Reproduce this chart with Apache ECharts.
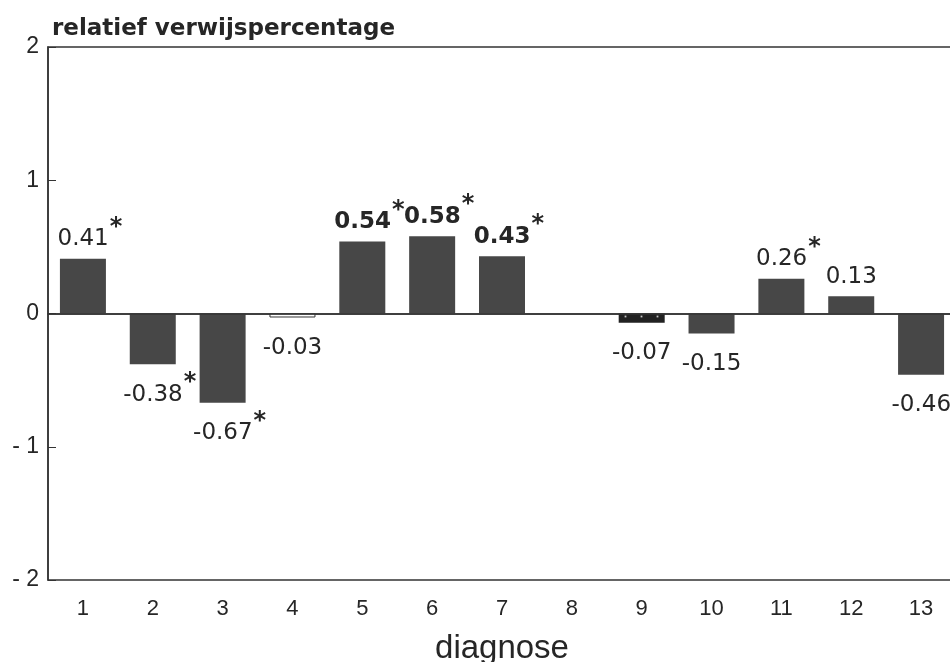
<!DOCTYPE html>
<html>
<head>
<meta charset="utf-8">
<script src="https://cdn.jsdelivr.net/npm/echarts@6/dist/echarts.min.js"></script>
<style>html,body{margin:0;padding:0;background:#fff;}#c{width:950px;height:662px;}</style>
</head>
<body>
<div id="c"></div>
<script>
// ---- data ----
var categories = ['1','2','3','4','5','6','7','8','9','10','11','12','13'];
var values = [0.41, -0.38, -0.67, -0.03, 0.54, 0.58, 0.43, 0, -0.07, -0.15, 0.26, 0.13, -0.46];
var significant = [true, true, true, false, true, true, true, false, false, false, true, false, true];
var yTickValues = [-2, -1, 0, 1, 2];
var yTickLabels = ['- 2', '- 1', '0', '1', '2'];
var titleText = 'relatief verwijspercentage';
var xAxisName = 'diagnose';

// ---- styling ----
var boldCategories = ['5', '6', '7'];
var barColor = '#474747';
var ink = '#262626';

var seriesData = values.map(function (v, i) {
  var item = { value: v };
  var cat = categories[i];
  var star = significant[i];
  var neg = v < 0;
  item.label = {
    position: neg ? 'bottom' : 'top',
    distance: neg ? 16 : 8,
    offset: [star ? 7 : 0, 0]
  };
  if (cat === '4') {
    item.itemStyle = { color: '#ffffff', borderColor: '#333', borderWidth: 1 };
  } else if (cat === '9') {
    item.itemStyle = {
      color: '#222',
      decal: { symbol: 'rect', symbolSize: 0.6, color: 'rgba(255,255,255,0.75)', dashArrayX: [[3, 13]], dashArrayY: [3, 6] }
    };
  }
  return item;
});

var chart = echarts.init(document.getElementById('c'), null, { renderer: 'canvas' });
chart.setOption({
  animation: false,
  backgroundColor: '#ffffff',
  title: {
    text: titleText,
    left: 47,
    top: 13,
    textStyle: { fontFamily: 'DejaVu Sans', fontWeight: 'bold', fontSize: 23, color: ink }
  },
  grid: {
    left: 48, top: 47, width: 908, height: 533,
    outerBoundsMode: 'none',
    containLabel: false,
    show: true, borderColor: '#333', borderWidth: 1.5, backgroundColor: 'transparent'
  },
  xAxis: {
    type: 'category',
    data: categories,
    boundaryGap: true,
    name: xAxisName,
    nameLocation: 'middle',
    nameGap: 52,
    nameTextStyle: { fontFamily: 'Liberation Sans', fontSize: 33, color: ink },
    axisLine: { lineStyle: { color: '#333', width: 1.5 } },
    axisTick: { inside: true, alignWithLabel: true, length: 8, lineStyle: { color: '#333', width: 1 } },
    axisLabel: { margin: 18, fontFamily: 'Liberation Sans', fontSize: 22, color: ink },
    splitLine: { show: false }
  },
  yAxis: {
    type: 'value',
    min: -2, max: 2, interval: 1,
    axisLine: { show: true, lineStyle: { color: '#333', width: 1.5 } },
    axisTick: { show: true, inside: true, length: 8, lineStyle: { color: '#333', width: 1 } },
    axisLabel: {
      margin: 9, fontFamily: 'Liberation Sans', fontSize: 23, color: ink,
      formatter: function (v) {
        var idx = yTickValues.indexOf(v);
        return idx >= 0 ? yTickLabels[idx] : '';
      }
    },
    splitLine: { show: false }
  },
  series: [{
    type: 'bar',
    data: seriesData,
    barWidth: 46,
    itemStyle: { color: barColor },
    label: {
      show: true,
      formatter: function (p) {
        var v = p.value;
        if (v === 0) return '';
        var i = p.dataIndex;
        var txt = v.toFixed(2);
        var key = boldCategories.indexOf(categories[i]) >= 0 ? 'b' : 'n';
        return '{' + key + '|' + txt + '}' + (significant[i] ? '{s|*}' : '');
      },
      rich: {
        n: { fontFamily: 'DejaVu Sans', fontSize: 23, lineHeight: 26, color: ink, verticalAlign: 'bottom' },
        b: { fontFamily: 'DejaVu Sans', fontWeight: 'bold', fontSize: 23, lineHeight: 26, color: ink, verticalAlign: 'bottom' },
        s: { fontFamily: 'DejaVu Sans', fontWeight: 'bold', fontSize: 24, lineHeight: 26, color: ink, padding: [0, 0, 11, 1], verticalAlign: 'bottom' }
      }
    },
    markLine: {
      silent: true,
      symbol: 'none',
      label: { show: false },
      lineStyle: { color: '#333', type: 'solid', width: 1.5 },
      data: [{ yAxis: 0 }]
    }
  }]
});
</script>
</body>
</html>
